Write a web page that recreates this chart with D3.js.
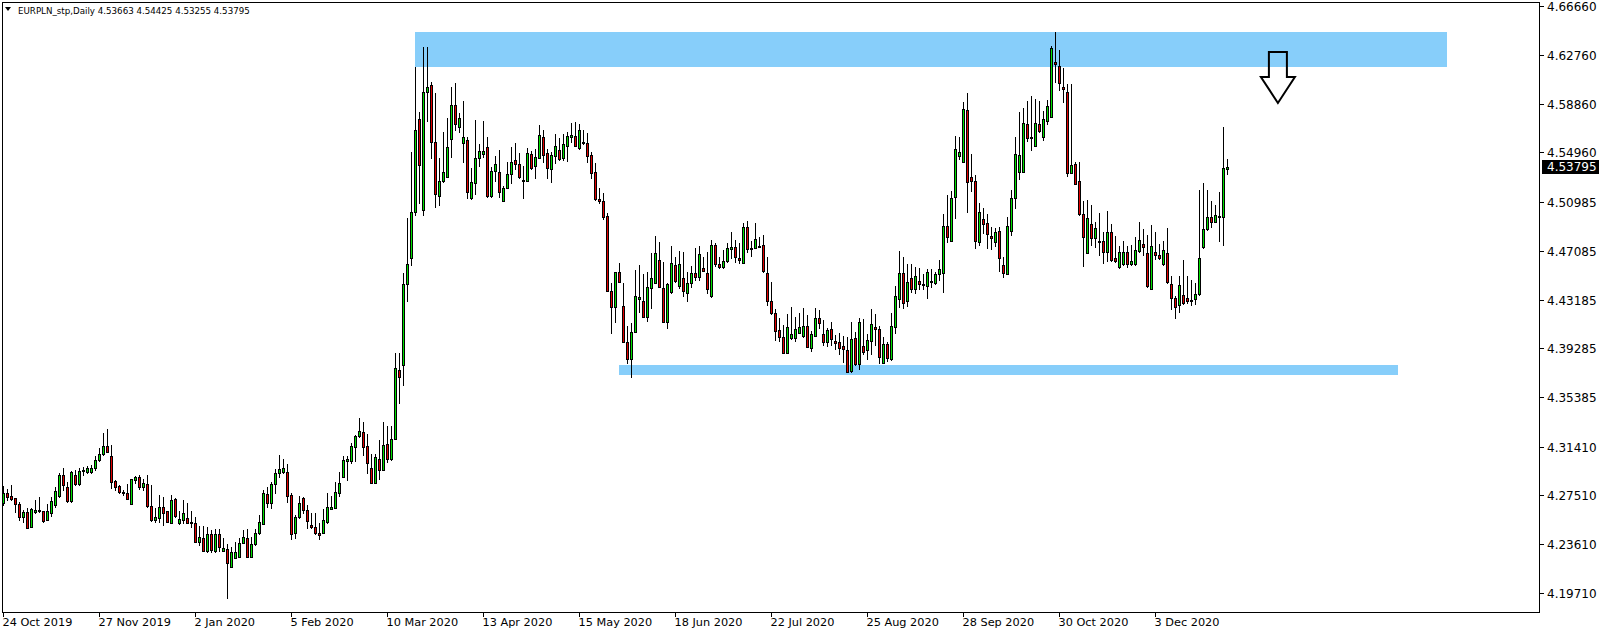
<!DOCTYPE html>
<html><head><meta charset="utf-8">
<script src="https://cdn.jsdelivr.net/npm/d3@7"></script>
<style>
html,body{margin:0;padding:0;background:#fff;}
svg{display:block;}
text{font-family:"DejaVu Sans",Verdana,sans-serif;font-size:11.3px;fill:#000;}
text.price{font-size:12px;}
text.title{font-size:8.7px;}
</style></head><body>
<svg id="chart" width="1604" height="636"></svg>
<script>
const openP = [4.2688,4.2768,4.2747,4.2728,4.2683,4.2576,4.2619,4.2502,4.2622,4.2635,
4.2627,4.2555,4.2608,4.2675,4.2750,4.2912,4.2816,4.2707,4.2915,4.2840,
4.2947,4.2942,4.2936,4.2968,4.3032,4.3083,4.3147,4.3067,4.2867,4.2827,
4.2782,4.2768,4.2680,4.2875,4.2896,4.2822,4.2843,4.2667,4.2555,4.2574,
4.2656,4.2627,4.2534,4.2720,4.2528,4.2555,4.2568,4.2542,4.2528,4.2376,
4.2408,4.2310,4.2440,4.2310,4.2440,4.2310,4.2320,4.2182,4.2248,4.2262,
4.2374,4.2408,4.2256,4.2360,4.2448,4.2523,4.2763,4.2688,4.2843,4.2933,
4.2941,4.2936,4.2755,4.2448,4.2576,4.2728,4.2632,4.2515,4.2496,4.2453,
4.2453,4.2539,4.2645,4.2648,4.2773,4.2896,4.3029,4.3029,4.3136,4.3227,
4.3256,4.3147,4.2968,4.2848,4.3040,4.2955,4.3163,4.3040,4.3200,4.3755,
4.3795,4.4443,4.4651,4.5019,4.5761,4.5035,4.5977,4.6035,4.5582,4.5149,
4.5269,4.5301,4.5600,4.5872,4.5697,4.5569,4.5595,4.5128,4.5253,4.5448,
4.5480,4.5536,4.5147,4.5344,4.5336,4.5109,4.5208,4.5320,4.5435,4.5401,
4.5275,4.5269,4.5480,4.5389,4.5453,4.5617,4.5488,4.5360,4.5470,4.5515,
4.5454,4.5550,4.5622,4.5627,4.5534,4.5576,4.5568,4.5475,4.5336,4.5123,
4.5107,4.4987,4.4387,4.4262,4.4539,4.4267,4.3982,4.3843,4.4056,4.4323,
4.4307,4.4182,4.4408,4.4448,4.4635,4.4408,4.4142,4.4382,4.4595,4.4430,
4.4488,4.4368,4.4448,4.4528,4.4502,4.4568,4.4528,4.4347,4.4755,4.4600,
4.4576,4.4627,4.4723,4.4736,4.4648,4.4608,4.4896,4.4728,4.4728,4.4750,
4.4755,4.4528,4.4310,4.4208,4.4075,4.4016,4.3888,4.4008,4.4014,4.4054,
4.4027,4.4110,4.3928,4.4027,4.4168,4.4043,4.3981,4.4080,4.3987,4.3976,
4.3947,4.3915,4.3749,4.4008,4.3800,4.3947,4.3915,4.3989,4.4096,4.4080,
4.3808,4.3963,4.3843,4.4096,4.4320,4.4528,4.4307,4.4488,4.4400,4.4470,
4.4440,4.4430,4.4470,4.4448,4.4520,4.4534,4.4910,4.4790,4.5142,4.5465,
4.5416,4.5832,4.5296,4.5267,4.4776,4.4960,4.4928,4.4827,4.4782,4.4867,
4.4595,4.4520,4.4870,4.5128,4.5342,4.5342,4.5720,4.5616,4.5550,4.5720,
4.5622,4.5750,4.5776,4.6216,4.6190,4.6016,4.5982,4.5334,4.5400,4.5267,
4.5003,4.4688,4.4923,4.4808,4.4787,4.4787,4.4696,4.4856,4.4654,4.4582,
4.4603,4.4696,4.4603,4.4603,4.4710,4.4763,4.4688,4.4400,4.4699,4.4675,
4.4603,4.4694,4.4443,4.4328,4.4275,4.4355,4.4328,4.4315,4.4320,4.4363,
4.4742,4.4880,4.4982,4.4942,4.4976,4.4976,4.53663];

const highP = [4.2827,4.2800,4.2835,4.2734,4.2702,4.2635,4.2648,4.2648,4.2715,4.2736,
4.2627,4.2680,4.2742,4.2822,4.2934,4.2968,4.2862,4.2950,4.2955,4.2968,
4.2982,4.2987,4.2995,4.3067,4.3128,4.3248,4.3283,4.3155,4.2875,4.2835,
4.2795,4.2843,4.2883,4.2910,4.2915,4.2880,4.2915,4.2835,4.2648,4.2755,
4.2736,4.2627,4.2755,4.2728,4.2630,4.2715,4.2688,4.2630,4.2582,4.2510,
4.2507,4.2502,4.2475,4.2480,4.2480,4.2408,4.2363,4.2336,4.2382,4.2408,
4.2475,4.2480,4.2422,4.2480,4.2595,4.2795,4.2822,4.2856,4.2960,4.3075,
4.3040,4.3003,4.2773,4.2595,4.2747,4.2741,4.2675,4.2613,4.2613,4.2528,
4.2640,4.2773,4.2747,4.2861,4.2941,4.3067,4.3067,4.3168,4.3235,4.3373,
4.3341,4.3243,4.3083,4.3083,4.3195,4.3341,4.3307,4.3307,4.3893,4.3893,
4.4533,4.4973,4.5499,4.6181,4.5821,4.6341,4.6336,4.6061,4.5968,4.5448,
4.5661,4.5768,4.6021,4.6048,4.5808,4.5910,4.5617,4.5369,4.5755,4.5560,
4.5749,4.5617,4.5381,4.5467,4.5515,4.5227,4.5421,4.5541,4.5568,4.5488,
4.5387,4.5528,4.5507,4.5520,4.5715,4.5675,4.5520,4.5496,4.5643,4.5608,
4.5640,4.5656,4.5728,4.5742,4.5720,4.5675,4.5648,4.5496,4.5408,4.5214,
4.5168,4.5008,4.4448,4.4536,4.4608,4.4448,4.4107,4.4128,4.4555,4.4595,
4.4520,4.4542,4.4688,4.4830,4.4782,4.4622,4.4448,4.4747,4.4662,4.4707,
4.4702,4.4542,4.4587,4.4728,4.4747,4.4662,4.4702,4.4795,4.4768,4.4662,
4.4715,4.4774,4.4856,4.4795,4.4774,4.4928,4.4950,4.4790,4.4934,4.4816,
4.4835,4.4662,4.4462,4.4240,4.4168,4.4115,4.4203,4.4256,4.4176,4.4214,
4.4248,4.4195,4.4070,4.4248,4.4235,4.4155,4.4093,4.4136,4.4035,4.4048,
4.4027,4.4016,4.4136,4.4056,4.4168,4.4160,4.4040,4.4243,4.4200,4.4109,
4.4016,4.3976,4.4208,4.4427,4.4707,4.4656,4.4600,4.4600,4.4582,4.4568,
4.4520,4.4563,4.4563,4.4542,4.4635,4.5000,4.5155,4.5187,4.5627,4.5620,
4.5896,4.5968,4.5480,4.5315,4.5088,4.5054,4.5000,4.4902,4.4894,4.4902,
4.4662,4.4976,4.5195,4.5616,4.5816,4.5848,4.5907,4.5947,4.5923,4.5907,
4.5827,4.5915,4.6350,4.6462,4.6315,4.6168,4.6040,4.6040,4.5416,4.5422,
4.5110,4.5115,4.5075,4.4942,4.5008,4.4862,4.5027,4.4923,4.4827,4.4747,
4.4790,4.4750,4.4755,4.4822,4.4942,4.4880,4.4835,4.4915,4.4862,4.4763,
4.4790,4.4888,4.4507,4.4347,4.4507,4.4635,4.4507,4.4475,4.4448,4.5195,
4.5254,4.5195,4.5110,4.5075,4.5182,4.5702,4.54425];

const lowP = [4.2675,4.2715,4.2715,4.2622,4.2555,4.2542,4.2488,4.2502,4.2608,4.2622,
4.2542,4.2555,4.2587,4.2662,4.2742,4.2795,4.2702,4.2702,4.2835,4.2835,
4.2915,4.2934,4.2934,4.2955,4.3030,4.3075,4.3102,4.2808,4.2795,4.2768,
4.2755,4.2723,4.2680,4.2848,4.2803,4.2795,4.2662,4.2547,4.2542,4.2542,
4.2515,4.2542,4.2528,4.2582,4.2523,4.2528,4.2528,4.2496,4.2376,4.2355,
4.2310,4.2302,4.2302,4.2302,4.2307,4.2310,4.1934,4.2182,4.2248,4.2262,
4.2368,4.2256,4.2256,4.2355,4.2443,4.2520,4.2662,4.2648,4.2773,4.2901,
4.2928,4.2701,4.2400,4.2408,4.2568,4.2608,4.2488,4.2488,4.2443,4.2400,
4.2448,4.2533,4.2640,4.2648,4.2747,4.2896,4.2875,4.3013,4.3029,4.3221,
4.3075,4.2928,4.2848,4.2848,4.2880,4.2955,4.3021,4.3035,4.3200,4.3493,
4.3635,4.4309,4.4595,4.4995,4.5088,4.4995,4.5749,4.5449,4.5061,4.5075,
4.5261,4.5301,4.5456,4.5675,4.5661,4.5421,4.5128,4.5123,4.5160,4.5389,
4.5461,4.5141,4.5141,4.5269,4.5136,4.5109,4.5208,4.5248,4.5361,4.5289,
4.5128,4.5269,4.5361,4.5289,4.5453,4.5421,4.5289,4.5262,4.5414,4.5435,
4.5435,4.5430,4.5582,4.5550,4.5523,4.5563,4.5422,4.5288,4.5112,4.5088,
4.4960,4.4390,4.4053,4.4136,4.4462,4.3982,4.3808,4.3702,4.4056,4.4222,
4.4176,4.4147,4.4254,4.4448,4.4422,4.4136,4.4088,4.4368,4.4456,4.4414,
4.4350,4.4310,4.4416,4.4475,4.4475,4.4547,4.4374,4.4342,4.4587,4.4568,
4.4568,4.4622,4.4648,4.4622,4.4614,4.4608,4.4702,4.4667,4.4728,4.4742,
4.4536,4.4275,4.4203,4.3995,4.3990,4.3894,4.3888,4.4000,4.3990,4.4048,
4.4016,4.3936,4.3907,4.4027,4.4088,4.3955,4.3949,4.3955,4.3923,4.3883,
4.3821,4.3736,4.3736,4.3795,4.3763,4.3883,4.3843,4.3880,4.3955,4.3813,
4.3808,4.3827,4.3835,4.4048,4.4262,4.4254,4.4270,4.4382,4.4368,4.4403,
4.4403,4.4334,4.4422,4.4440,4.4475,4.4376,4.4782,4.4790,4.4968,4.5440,
4.5416,4.5022,4.5190,4.4733,4.4755,4.4848,4.4733,4.4720,4.4747,4.4547,
4.4502,4.4520,4.4835,4.5054,4.5283,4.5342,4.5587,4.5515,4.5550,4.5662,
4.5595,4.5720,4.5776,4.6056,4.5995,4.5902,4.5310,4.5328,4.5240,4.4995,
4.4590,4.4688,4.4755,4.4742,4.4675,4.4608,4.4630,4.4630,4.4622,4.4568,
4.4595,4.4582,4.4595,4.4595,4.4702,4.4675,4.4422,4.4400,4.4640,4.4640,
4.4595,4.4454,4.4243,4.4168,4.4222,4.4283,4.4288,4.4275,4.4280,4.4355,
4.4728,4.4875,4.4896,4.4936,4.4790,4.4755,4.53255];

const closeP = [4.2768,4.2742,4.2726,4.2680,4.2576,4.2616,4.2494,4.2640,4.2635,4.2624,
4.2550,4.2627,4.2707,4.2787,4.2915,4.2832,4.2710,4.2942,4.2840,4.2947,
4.2952,4.2968,4.2968,4.3032,4.3083,4.3147,4.3102,4.2862,4.2822,4.2776,
4.2768,4.2723,4.2883,4.2896,4.2822,4.2854,4.2670,4.2555,4.2576,4.2656,
4.2614,4.2542,4.2715,4.2587,4.2560,4.2608,4.2534,4.2528,4.2376,4.2422,
4.2310,4.2440,4.2315,4.2440,4.2342,4.2328,4.2214,4.2296,4.2296,4.2368,
4.2422,4.2256,4.2360,4.2448,4.2536,4.2768,4.2688,4.2843,4.2933,4.2960,
4.2968,4.2747,4.2443,4.2576,4.2688,4.2635,4.2544,4.2501,4.2448,4.2437,
4.2555,4.2656,4.2661,4.2776,4.2848,4.3035,4.3043,4.3147,4.3227,4.3267,
4.3141,4.3013,4.2848,4.3061,4.2955,4.3155,4.3040,4.3200,4.3768,4.3696,
4.4443,4.4603,4.5019,4.5675,4.5395,4.5982,4.6021,4.5582,4.5160,4.5269,
4.5341,4.5541,4.5872,4.5720,4.5769,4.5617,4.5182,4.5257,4.5448,4.5507,
4.5509,4.5149,4.5344,4.5400,4.5176,4.5208,4.5320,4.5421,4.5401,4.5297,
4.5270,4.5488,4.5369,4.5456,4.5633,4.5475,4.5369,4.5475,4.5547,4.5440,
4.5560,4.5627,4.5635,4.5550,4.5675,4.5568,4.5470,4.5334,4.5120,4.5110,
4.4982,4.4390,4.4262,4.4536,4.4462,4.3982,4.3840,4.4056,4.4347,4.4342,
4.4182,4.4416,4.4488,4.4694,4.4422,4.4142,4.4440,4.4611,4.4470,4.4600,
4.4390,4.4448,4.4528,4.4496,4.4683,4.4550,4.4400,4.4755,4.4600,4.4576,
4.4627,4.4728,4.4736,4.4656,4.4635,4.4896,4.4720,4.4723,4.4800,4.4742,
4.4547,4.4310,4.4208,4.4070,4.4016,4.3894,4.4096,4.4040,4.4080,4.4096,
4.4110,4.3942,4.4043,4.4168,4.4128,4.3981,4.4075,4.4000,4.3973,4.3933,
4.3920,4.3741,4.4003,4.3800,4.4136,4.3896,4.3995,4.4120,4.4080,4.3861,
4.3963,4.3848,4.4107,4.4347,4.4528,4.4288,4.4456,4.4400,4.4510,4.4440,
4.4435,4.4536,4.4456,4.4520,4.4560,4.4910,4.4822,4.5134,4.5520,4.5495,
4.5840,4.5256,4.5270,4.4790,4.5016,4.4923,4.4840,4.4808,4.4856,4.4648,
4.4534,4.4907,4.5128,4.5480,4.5475,4.5728,4.5608,4.5611,4.5728,4.5670,
4.5760,4.5867,4.6328,4.6203,4.6048,4.6000,4.5328,4.5395,4.5240,4.5000,
4.4816,4.4968,4.4808,4.4888,4.4779,4.4696,4.4856,4.4635,4.4630,4.4696,
4.4696,4.4603,4.4627,4.4715,4.4795,4.4742,4.4430,4.4747,4.4678,4.4648,
4.4715,4.4462,4.4328,4.4256,4.4435,4.4288,4.4310,4.4310,4.4360,4.4654,
4.4880,4.4976,4.4936,4.4995,4.4984,4.5368,4.53795];

const dateLabels = ["24 Oct 2019","27 Nov 2019","2 Jan 2020","5 Feb 2020","10 Mar 2020","13 Apr 2020","15 May 2020","18 Jun 2020","22 Jul 2020","25 Aug 2020","28 Sep 2020","30 Oct 2020","3 Dec 2020"];
const dateLabelBars = [0,24,48,72,96,120,144,168,192,216,240,264,288];
const priceTicks = [4.66660,4.62760,4.58860,4.54960,4.50985,4.47085,4.43185,4.39285,4.35385,4.31410,4.27510,4.23610,4.19710];
const lastPrice = 4.53795;
const titleText = "EURPLN_stp,Daily  4.53663 4.54425 4.53255 4.53795";
// zones: [bar start, bar end, price top, price bottom]
const zoneBarStart = [102.9, 153.9];
const zoneBarEnd = [360.9, 348.6];
const zoneTop = [4.6459, 4.3796];
const zoneBottom = [4.6179, 4.3711];
// arrow annotation: bar position, price of top, price of tip
const arrowBar = [318.6];
const arrowTopPrice = [4.6299];
const arrowTipPrice = [4.5891];

const svg = d3.select("#chart");
const W = 1604, H = 636;
const L = 2, T = 2, R = 1539, B = 612;

const x = d3.scaleLinear().domain([0, 384]).range([3.5, 3.5 + 4 * 384]);
const y = d3.scaleLinear().domain([4.1971, 4.6666]).range([593.0, 6.1]);

svg.append("rect").attr("width", W).attr("height", H).attr("fill", "#fff");

svg.append("defs").append("clipPath").attr("id", "plotClip")
  .append("rect").attr("x", L + 1).attr("y", T + 1).attr("width", R - L - 1).attr("height", B - T - 1);

const plot = svg.append("g").attr("clip-path", "url(#plotClip)").attr("shape-rendering", "crispEdges");

// zones
plot.selectAll("rect.zone").data(zoneBarStart.map((b, k) => k)).join("rect")
  .attr("class", "zone")
  .attr("x", k => Math.round(x(zoneBarStart[k])))
  .attr("width", k => Math.round(x(zoneBarEnd[k])) - Math.round(x(zoneBarStart[k])))
  .attr("y", k => Math.round(y(zoneTop[k])))
  .attr("height", k => Math.round(y(zoneBottom[k])) - Math.round(y(zoneTop[k])))
  .attr("fill", "#87CEFA");

const bars = d3.range(openP.length).map(i => ({i, o: openP[i], h: highP[i], l: lowP[i], c: closeP[i]}));

const bull = "#00E000", bear = "#E00000";

plot.selectAll("line.wick").data(bars).join("line")
  .attr("class", "wick")
  .attr("x1", d => x(d.i)).attr("x2", d => x(d.i))
  .attr("y1", d => Math.round(y(d.h))).attr("y2", d => Math.round(y(d.l)) + 1)
  .attr("stroke", "#000").attr("stroke-width", 1);

bars.forEach(d => {
  const top = Math.round(y(Math.max(d.o, d.c)));
  const bot = Math.round(y(Math.min(d.o, d.c)));
  const cx = x(d.i);
  if (bot - top < 2) {
    plot.append("rect").attr("x", cx - 1.5).attr("y", top).attr("width", 3).attr("height", Math.max(1, bot - top + 1)).attr("fill", "#000");
  } else {
    plot.append("rect")
      .attr("x", cx - 1).attr("y", top + 0.5)
      .attr("width", 2).attr("height", bot - top)
      .attr("fill", d.c >= d.o ? bull : bear)
      .attr("stroke", "#000").attr("stroke-width", 1);
  }
});

// arrow (outline only)
arrowBar.forEach((b, k) => {
  const cx = x(b), yt = y(arrowTopPrice[k]), yp = y(arrowTipPrice[k]);
  const hw = 9, sw = 17, neck = yt + (yp - yt) * 0.49;
  const pts = [[cx - hw, yt], [cx + hw, yt], [cx + hw, neck], [cx + sw, neck], [cx, yp], [cx - sw, neck], [cx - hw, neck]];
  svg.append("path").attr("d", "M" + pts.map(p => p.join(",")).join("L") + "Z")
    .attr("fill", "none").attr("stroke", "#000").attr("stroke-width", 2).attr("stroke-linejoin", "miter");
});

// frame
svg.append("rect").attr("x", L + 0.5).attr("y", T + 0.5).attr("width", R - L).attr("height", B - T)
  .attr("fill", "none").attr("stroke", "#000").attr("stroke-width", 1).attr("shape-rendering", "crispEdges");

// price axis
const ya = svg.append("g").attr("shape-rendering", "crispEdges");
priceTicks.forEach(v => {
  const yy = Math.round(y(v)) + 0.5;
  ya.append("line").attr("x1", R).attr("x2", R + 5).attr("y1", yy).attr("y2", yy).attr("stroke", "#000");
  ya.append("text").attr("class", "price").attr("x", R + 8).attr("y", yy).attr("dy", "0.36em").text(v.toFixed(5));
});
// current price label
const yl = Math.round(y(lastPrice));
svg.append("rect").attr("x", R + 3).attr("y", yl - 7).attr("width", 57).attr("height", 14).attr("fill", "#000");
svg.append("text").attr("class", "price").attr("x", R + 8).attr("y", yl).attr("dy", "0.36em").style("fill", "#fff").text(lastPrice.toFixed(5));

// time axis
const xa = svg.append("g");
dateLabelBars.forEach((b, k) => {
  const xx = x(b);
  xa.append("line").attr("x1", xx).attr("x2", xx).attr("y1", B).attr("y2", B + 5).attr("stroke", "#000").attr("shape-rendering", "crispEdges");
  xa.append("text").attr("x", xx - 1).attr("y", 626).text(dateLabels[k]);
});

// title
svg.append("path").attr("d", "M5,7L11,7L8,11Z").attr("fill", "#000");
svg.append("text").attr("class", "title").attr("x", 18).attr("y", 14).text(titleText);
</script>
</body></html>
